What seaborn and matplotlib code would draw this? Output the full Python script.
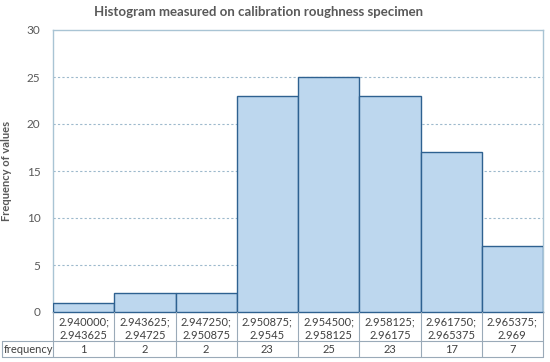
import matplotlib
matplotlib.use("Agg")
import matplotlib.pyplot as plt
import seaborn as sns
import pandas as pd
from matplotlib.lines import Line2D

categories = ["2.940000;\n2.943625", "2.943625;\n2.94725", "2.947250;\n2.950875",
              "2.950875;\n2.9545", "2.954500;\n2.958125", "2.958125;\n2.96175",
              "2.961750;\n2.965375", "2.965375;\n2.969"]
frequency = [1, 2, 2, 23, 25, 23, 17, 7]
yticks = [0, 5, 10, 15, 20, 25, 30]

sns.set_theme(style="white")
plt.rcParams['font.family'] = ['Lato', 'DejaVu Sans']

df = pd.DataFrame({"interval": categories, "frequency": frequency})

fig = plt.figure(figsize=(5.5, 3.62), dpi=100)
L, R, B, T = 53/550, 543/550, 1-312/362, 1-30/362
ax = fig.add_axes([L, B, R-L, T-B])

sns.barplot(data=df, x="interval", y="frequency", width=1.0, color="#BDD7EE",
            edgecolor="#2E6190", linewidth=1.0, saturation=1, ax=ax, zorder=3)

txt_c = "#404040"
fs = 8
ax.set_xlim(-0.5, len(categories)-0.5)
ax.set_ylim(0, 30)
ax.set_yticks(yticks)
ax.set_yticklabels([str(v) for v in yticks], fontsize=8.5, color="#595959")
ax.tick_params(axis='y', length=0, pad=9)
ax.set_xticks(range(len(categories)))
ax.set_xticklabels(categories, fontsize=fs, color=txt_c, linespacing=1.3)
ax.tick_params(axis='x', length=0, pad=3)
ax.set_xlabel("")
ax.set_ylabel("Frequency of values", fontsize=8, fontweight="bold", color="#595959")
ax.yaxis.set_label_coords((12-53)/490, 0.5)
for v in yticks[1:-1]:
    ax.axhline(v, color="#9DB9CC", linestyle=(0, (2, 2)), linewidth=0.8, zorder=1)
for s in ax.spines.values():
    s.set_color("#A9C4D4")
    s.set_linewidth(1.0)
ax.spines['bottom'].set_color("#2E6190")

fig.text(259/550, 1-12/362, "Histogram measured on calibration roughness specimen",
         fontsize=9.5, fontweight="bold", color="#595959", ha="center", va="center")

# data table below the plot
line_c = "#9AAAB8"
def fy(py):
    return 1 - py/362
def fx(px):
    return px/550
inv = fig.transFigure.inverted()
for i in range(len(categories)+1):
    xb = i - 0.5
    x_fig = inv.transform(ax.transData.transform((xb, 0)))[0]
    fig.add_artist(Line2D([x_fig, x_fig], [fy(312), fy(357)], color=line_c, lw=0.8))
for py in (341, 357):
    fig.add_artist(Line2D([fx(2), fx(543)], [fy(py), fy(py)], color=line_c, lw=0.8))
fig.add_artist(Line2D([fx(2), fx(2)], [fy(341), fy(357)], color=line_c, lw=0.8))
fig.text(fx(4), fy(349.5), "frequency", fontsize=fs, color=txt_c, va="center", ha="left")
for i, f in enumerate(frequency):
    x_fig = inv.transform(ax.transData.transform((i, 0)))[0]
    fig.text(x_fig, fy(349.5), str(f), fontsize=fs, color=txt_c, va="center", ha="center")

fig.savefig("out.png", dpi=100)
